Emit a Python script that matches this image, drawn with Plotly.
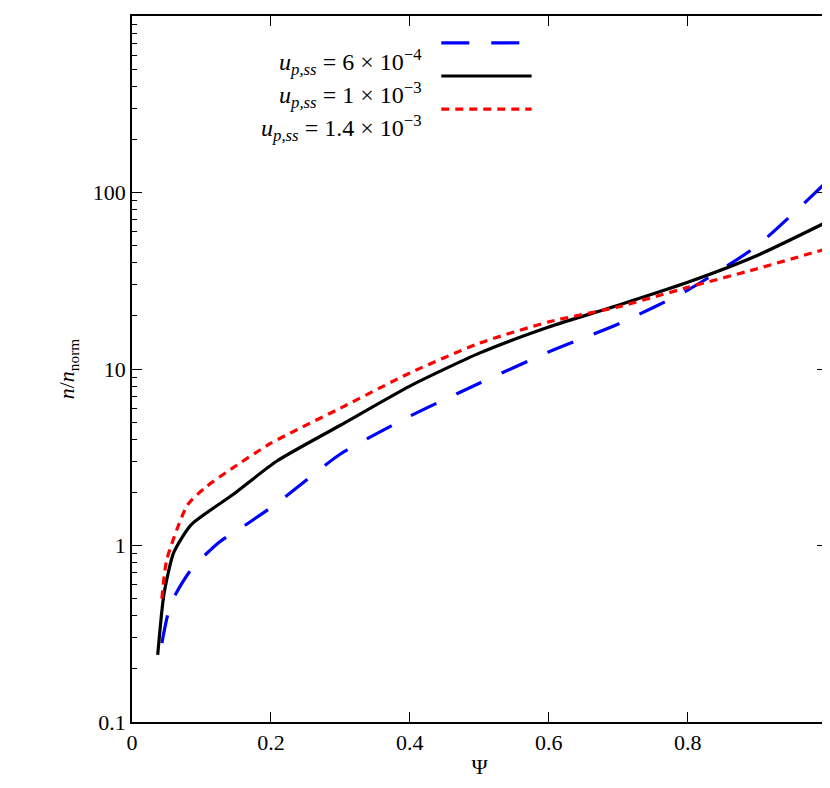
import plotly.graph_objects as go

# values
psi_a = [0.043, 0.056, 0.085, 0.125, 0.165, 0.21, 0.3, 0.4, 0.5, 0.6, 0.7, 0.8, 0.9, 1.0]
n_a = [0.28, 0.47, 0.73, 1.04, 1.32, 1.75, 3.3, 5.4, 8.3, 12.5, 18, 28, 50, 115]

psi_b = [0.037, 0.046, 0.060, 0.085, 0.146, 0.208, 0.3, 0.4, 0.5, 0.6, 0.7, 0.8, 0.9, 1.0]
n_b = [0.24, 0.53, 0.91, 1.31, 1.95, 3.0, 4.8, 8.0, 12.3, 17.3, 23, 31, 44, 68]

psi_c = [0.043, 0.05, 0.08, 0.108, 0.142, 0.2, 0.3, 0.4, 0.5, 0.6, 0.7, 0.8, 0.9, 1.0]
n_c = [0.5, 0.83, 1.7, 2.17, 2.7, 3.8, 6.0, 9.5, 14, 18.5, 22.5, 29, 37, 48]

labels = ["<i>u</i><sub><i>p,ss</i></sub> = 6 × 10<sup>−4</sup>",
          "<i>u</i><sub><i>p,ss</i></sub> = 1 × 10<sup>−3</sup>",
          "<i>u</i><sub><i>p,ss</i></sub> = 1.4 × 10<sup>−3</sup>"]
styles = [("blue", "28px,22px"), ("black", "solid"), ("red", "8px,6px")]

minor_vals = [m * 10 ** e for e in range(-1, 3) for m in range(2, 10)]

fig = go.Figure()
for (x, y), (col, dash) in zip([(psi_a, n_a), (psi_b, n_b), (psi_c, n_c)], styles):
    fig.add_trace(go.Scatter(x=x, y=y, mode="lines", line=dict(color=col, dash=dash, width=3.2, shape="spline", smoothing=0.6), showlegend=False))

# legend drawn by hand: text on the left, sample line on the right
for i, (lab, (col, dash)) in enumerate(zip(labels, styles)):
    yy = 0.962 - i * 0.047
    fig.add_annotation(x=0.42, y=yy, xref="paper", yref="paper", text=lab, showarrow=False,
                       xanchor="right", font=dict(size=24))
    fig.add_shape(type="line", xref="paper", yref="paper", x0=0.445, x1=0.575, y0=yy, y1=yy,
                  line=dict(color=col, dash=dash, width=3.2))

ax = dict(showline=True, linecolor="black", linewidth=1.5, mirror="ticks", ticks="inside",
          ticklen=10, tickcolor="black", showgrid=False, zeroline=False, tickfont=dict(size=22))
fig.update_xaxes(range=[0, 1.0005], tickvals=[0, 0.2, 0.4, 0.6, 0.8, 1], ticktext=["0", "0.2", "0.4", "0.6", "0.8", "1"],
                 title=dict(text="Ψ", font=dict(size=22), standoff=4), **ax)
fig.update_yaxes(type="log", range=[-1, 3], tickvals=[0.1, 1, 10, 100, 1000],
                 ticktext=["0.1", "1", "10", "100", "1000"],
                 minor=dict(ticks="inside", ticklen=5, tickcolor="black", showgrid=False, tickvals=minor_vals),
                 title=dict(text="<i>n</i>/<i>n</i><sub>norm</sub>", font=dict(size=22), standoff=12), **ax)
fig.update_layout(width=830, height=788, margin=dict(l=124, r=9, t=6, b=74),
                  plot_bgcolor="white", paper_bgcolor="white",
                  font=dict(family="Liberation Serif", color="black"))
fig.write_html("out.html")
